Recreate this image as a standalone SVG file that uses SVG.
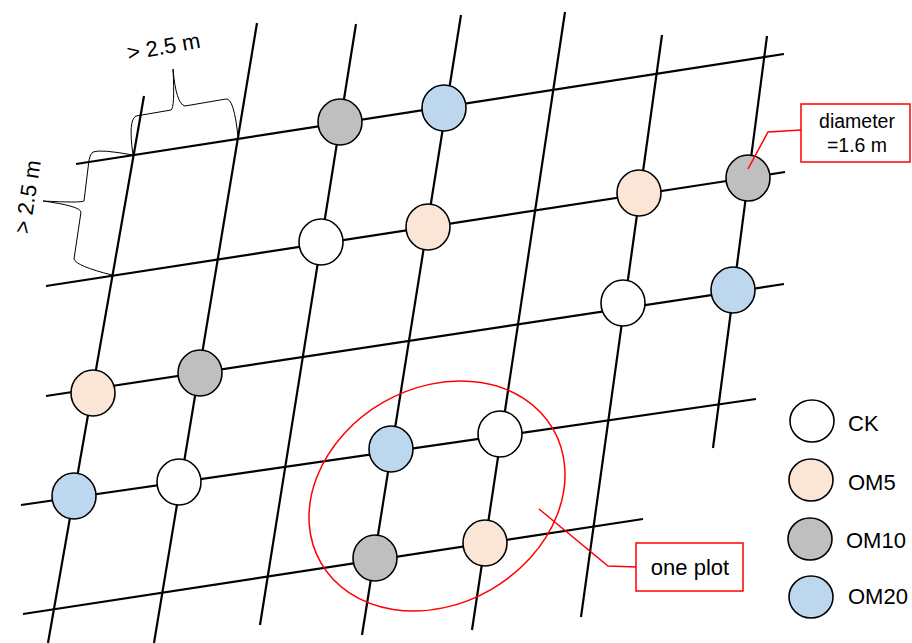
<svg xmlns="http://www.w3.org/2000/svg" width="912" height="643" viewBox="0 0 912 643">
<defs>
<style>
.grid{stroke:#000;stroke-width:2.2;fill:none;stroke-linecap:butt}
.node{stroke:#000;stroke-width:1.6}
.ck{fill:#ffffff}
.om5{fill:#fbe5d6}
.om10{fill:#bfbfbf}
.om20{fill:#bdd7ee}
.red{stroke:#ff0000;stroke-width:1.5;fill:none}
.brace{stroke:#000;stroke-width:1;fill:none}
.t{font-family:"Liberation Sans",Arial,sans-serif;fill:#000}
</style>
</defs>
<rect width="912" height="643" fill="#ffffff"/>
<g id="connectors">
<line class="grid" x1="76" y1="164" x2="784" y2="54"/>
<line class="grid" x1="46" y1="286" x2="785" y2="172"/>
<line class="grid" x1="46" y1="396" x2="784" y2="284"/>
<line class="grid" x1="21" y1="505" x2="756" y2="399"/>
<line class="grid" x1="23" y1="614" x2="643" y2="519"/>
<line class="grid" x1="144" y1="96" x2="48" y2="643"/>
<line class="grid" x1="257" y1="23" x2="154" y2="643"/>
<line class="grid" x1="356" y1="24" x2="260" y2="625"/>
<line class="grid" x1="461" y1="15" x2="362" y2="635"/>
<line class="grid" x1="565" y1="12" x2="472" y2="630"/>
<line class="grid" x1="662" y1="35" x2="581" y2="617"/>
<line class="grid" x1="767" y1="36" x2="713" y2="448"/>
</g>
<g id="nodes">
<g id="n1"><ellipse class="node om10" cx="340" cy="122" rx="22" ry="23"/></g>
<g id="n2"><ellipse class="node om20" cx="444" cy="108" rx="22" ry="23"/></g>
<g id="n3"><ellipse class="node ck" cx="321" cy="242" rx="22" ry="23"/></g>
<g id="n4"><ellipse class="node om5" cx="428" cy="227" rx="22" ry="23"/></g>
<g id="n5"><ellipse class="node om5" cx="639" cy="193" rx="22" ry="23"/></g>
<g id="n6"><ellipse class="node om10" cx="748" cy="178" rx="22" ry="23"/></g>
<g id="n7"><ellipse class="node ck" cx="623" cy="303" rx="22" ry="23"/></g>
<g id="n8"><ellipse class="node om20" cx="733" cy="290" rx="22" ry="23"/></g>
<g id="n9"><ellipse class="node om5" cx="93" cy="393" rx="22" ry="23"/></g>
<g id="n10"><ellipse class="node om10" cx="200" cy="373" rx="22" ry="23"/></g>
<g id="n11"><ellipse class="node om20" cx="74" cy="496" rx="22" ry="23"/></g>
<g id="n12"><ellipse class="node ck" cx="179" cy="482" rx="22" ry="23"/></g>
<g id="n13"><ellipse class="node om20" cx="391" cy="449" rx="22" ry="23"/></g>
<g id="n14"><ellipse class="node ck" cx="500" cy="434" rx="22" ry="23"/></g>
<g id="n15"><ellipse class="node om10" cx="375" cy="558" rx="22" ry="23"/></g>
<g id="n16"><ellipse class="node om5" cx="485" cy="543" rx="22" ry="23"/></g>
</g>
<g id="dimensions">
<path class="brace" d="M133,155 Q128,120 136,116 L171,110 Q175,108 173,69 Q176,104 185,106 L226,99 Q234,98 238,137"/>
<path class="brace" d="M133,155 Q100,149 93,152 Q90,154 89,160 L84,201 Q80,203 43,201 Q80,206 81,212 L74,259 Q76,266 112,275"/>
<text class="t" font-size="22" text-anchor="middle" x="165" y="54" transform="rotate(-10 165 54)">&gt; 2.5 m</text>
<text class="t" font-size="22" text-anchor="middle" x="35" y="198" transform="rotate(-81 35 198)">&gt; 2.5 m</text>
</g>
<g id="diameter-label">
<polyline class="red" points="801,130 768,132 748,169"/>
<rect class="red" x="801" y="104" width="109" height="58"/>
<text class="t" font-size="19.5" text-anchor="middle" x="857" y="128">diameter</text>
<text class="t" font-size="19.5" text-anchor="middle" x="857" y="152">=1.6 m</text>
</g>
<g id="plot-label">
<ellipse class="red" cx="437" cy="496" rx="134" ry="108" transform="rotate(-30 437 496)"/>
<polyline class="red" points="539,509 608,566 636,567"/>
<rect class="red" x="636" y="543" width="107" height="48"/>
<text class="t" font-size="22" text-anchor="middle" x="690" y="575">one plot</text>
</g>
<g id="legend">
<g id="leg-ck"><ellipse class="node ck" cx="812" cy="421" rx="22" ry="21"/><text class="t" font-size="22" x="848" y="431">CK</text></g>
<g id="leg-om5"><ellipse class="node om5" cx="811" cy="480" rx="22" ry="21"/><text class="t" font-size="22" x="848" y="490">OM5</text></g>
<g id="leg-om10"><ellipse class="node om10" cx="810" cy="539" rx="22" ry="21"/><text class="t" font-size="22" x="846" y="548">OM10</text></g>
<g id="leg-om20"><ellipse class="node om20" cx="811" cy="597" rx="22" ry="21"/><text class="t" font-size="22" x="848" y="604">OM20</text></g>
</g>
</svg>
